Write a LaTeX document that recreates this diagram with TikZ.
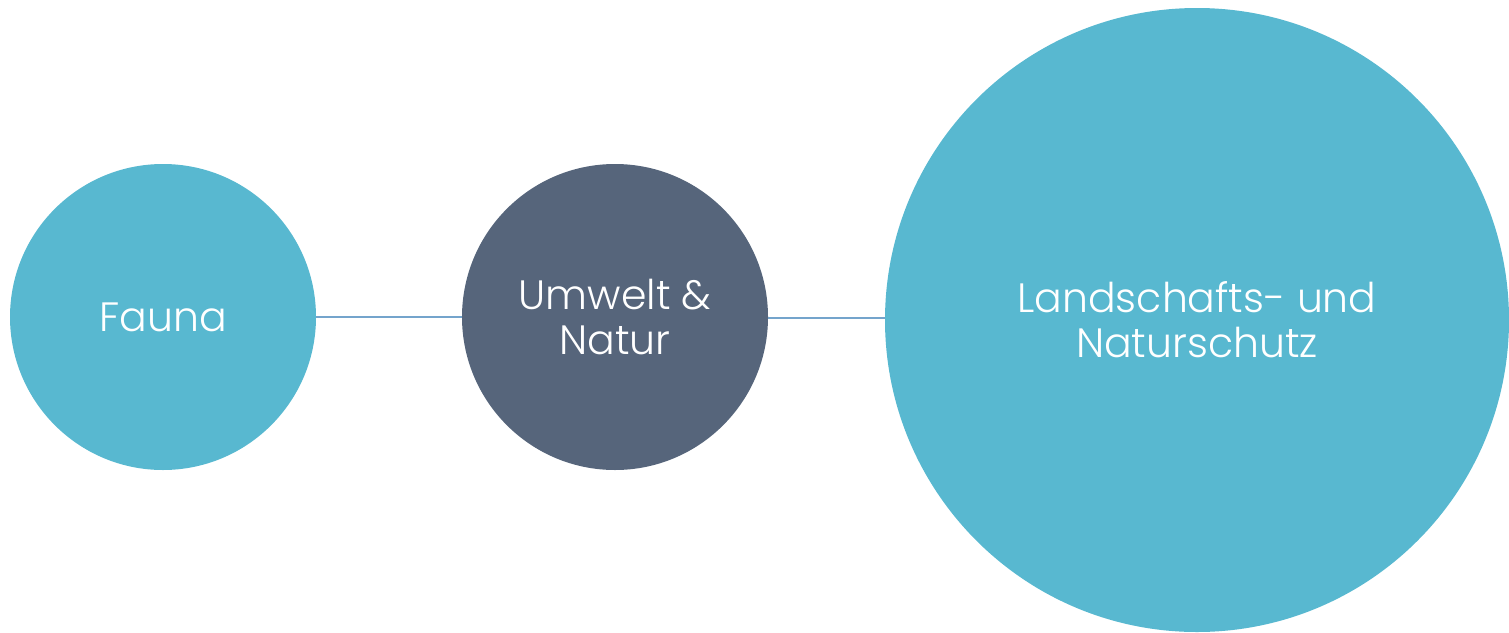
\documentclass[tikz,border=0pt]{standalone}
\usepackage{fontspec}
\setmainfont{Poppins}[UprightFont=* Light]
\definecolor{teal}{HTML}{58B8D0}
\definecolor{slate}{HTML}{56657B}
\definecolor{linkc}{HTML}{74A4CC}
\begin{document}
\begin{tikzpicture}[x=1pt,y=-1pt,
  bubble/.style={circle,inner sep=0pt,text=white,align=center,
    font=\fontsize{41}{45}\selectfont},
  link/.style={draw=linkc,line width=1.5pt}]
\useasboundingbox (0,0) rectangle (1509,632);
\node[bubble,fill=teal,minimum size=306pt] (fauna) at (163,317) {Fauna};
\node[bubble,fill=slate,minimum size=306pt] (umwelt) at (615,317) {Umwelt \&\\Natur};
\node[bubble,fill=teal,minimum size=624pt] (schutz) at (1197,320) {Landschafts- und\\Naturschutz};
\draw[link] (fauna.east) -- (umwelt.west);
\draw[link] ([yshift=-1pt]umwelt.east) -- ([yshift=-1pt]umwelt.east -| schutz.west);
\end{tikzpicture}
\end{document}
